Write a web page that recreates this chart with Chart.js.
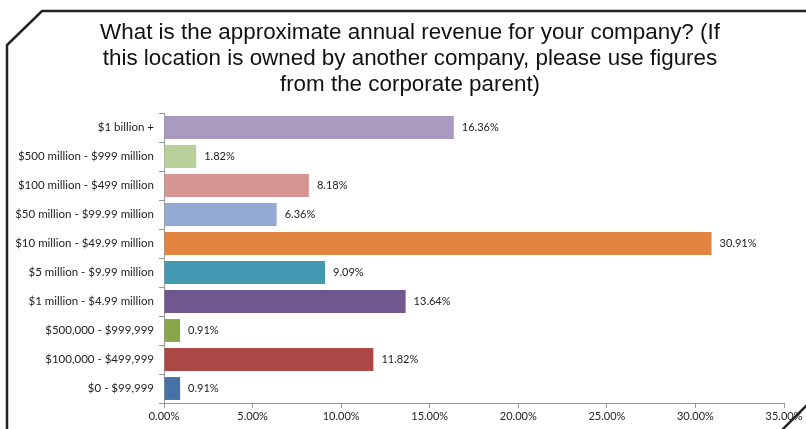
<!DOCTYPE html>
<html>
<head>
<meta charset="utf-8">
<script src="https://cdn.jsdelivr.net/npm/chart.js@4/dist/chart.umd.min.js"></script>
<style>
  html, body { margin: 0; padding: 0; background: #fff; }
  #wrap { width: 806px; height: 429px; position: relative; }
</style>
</head>
<body>
<div id="wrap"><canvas id="revenueChart"></canvas></div>
<script>
const categories = [
    '$1 billion +',
    '$500 million - $999 million',
    '$100 million - $499 million',
    '$50 million - $99.99 million',
    '$10 million - $49.99 million',
    '$5 million - $9.99 million',
    '$1 million - $4.99 million',
    '$500,000 - $999,999',
    '$100,000 - $499,999',
    '$0 - $99,999'
];
const percents = [16.36, 1.82, 8.18, 6.36, 30.91, 9.09, 13.64, 0.91, 11.82, 0.91];
const barColors = [
    '#A99BC0', '#B9D09A', '#D69592', '#95AAD3', '#E0843F',
    '#4299B1', '#70578E', '#8AA64B', '#AB4745', '#4672A8'
];
const xTicks = [0, 5, 10, 15, 20, 25, 30, 35];

const titleLines = [
    'What is the approximate annual revenue for your company? (If',
    'this location is owned by another company, please use figures',
    'from the corporate parent)'
];

// beveled outline around the whole chart
const framePlugin = {
    id: 'frame',
    afterDraw(chart) {
        const c = chart.ctx;
        c.save();
        c.strokeStyle = '#222';
        c.lineWidth = 2.5;
        c.beginPath();
        c.moveTo(7, 440);
        c.lineTo(7, 45);
        c.lineTo(42, 11);
        c.lineTo(820, 11);
        c.stroke();
        c.beginPath();
        c.moveTo(780, 432);
        c.lineTo(810, 402);
        c.stroke();
        c.restore();
    }
};

// nudge the title block so it centres a bit right of the canvas middle
const titleShift = {
    id: 'titleShift',
    afterLayout(chart) {
        if (chart.titleBlock) {
            chart.titleBlock.left += 36;
        }
    }
};

// value text to the right of each bar
const valueLabels = {
    id: 'valueLabels',
    afterDatasetsDraw(chart) {
        const c = chart.ctx;
        const meta = chart.getDatasetMeta(0);
        c.save();
        c.font = '11px Lato, "Open Sans", sans-serif';
        c.fillStyle = '#222';
        c.textAlign = 'left';
        c.textBaseline = 'middle';
        meta.data.forEach((bar, i) => {
            c.fillText(percents[i].toFixed(2) + '%', bar.x + 8, bar.y);
        });
        c.restore();
    }
};

new Chart(document.getElementById('revenueChart').getContext('2d'), {
    type: 'bar',
    data: {
        labels: categories,
        datasets: [{
            data: percents,
            backgroundColor: barColors,
            borderWidth: 0,
            barPercentage: 0.79,
            categoryPercentage: 1.0
        }]
    },
    options: {
        indexAxis: 'y',
        responsive: true,
        maintainAspectRatio: false,
        animation: false,
        layout: { padding: { top: 0, left: 0, right: 22, bottom: 0 } },
        plugins: {
            legend: { display: false },
            tooltip: { enabled: false },
            title: {
                display: true,
                text: titleLines,
                color: '#111',
                font: { family: '"Liberation Sans", Arial, sans-serif', size: 22.4, weight: 'normal', lineHeight: 26 / 22.4 },
                padding: { top: 20, bottom: 15 }
            }
        },
        scales: {
            x: {
                min: 0,
                max: 35,
                afterBuildTicks(scale) {
                    scale.ticks = xTicks.map(v => ({ value: v }));
                },
                afterFit(scale) { scale.height = 26; },
                grid: {
                    drawOnChartArea: false,
                    drawTicks: true,
                    tickLength: 5,
                    color: '#999'
                },
                border: { color: '#999' },
                ticks: {
                    color: '#222',
                    padding: 2,
                    maxRotation: 0,
                    font: { family: 'Lato, "Open Sans", sans-serif', size: 11 },
                    callback: v => v.toFixed(2) + '%'
                }
            },
            y: {
                afterFit(scale) { scale.width = 164; },
                grid: {
                    drawOnChartArea: false,
                    drawTicks: true,
                    tickLength: 5,
                    color: '#999'
                },
                border: { color: '#999' },
                ticks: {
                    color: '#222',
                    padding: 5,
                    font: { family: 'Lato, "Open Sans", sans-serif', size: 11.5 }
                }
            }
        }
    },
    plugins: [framePlugin, titleShift, valueLabels]
});
</script>
</body>
</html>
